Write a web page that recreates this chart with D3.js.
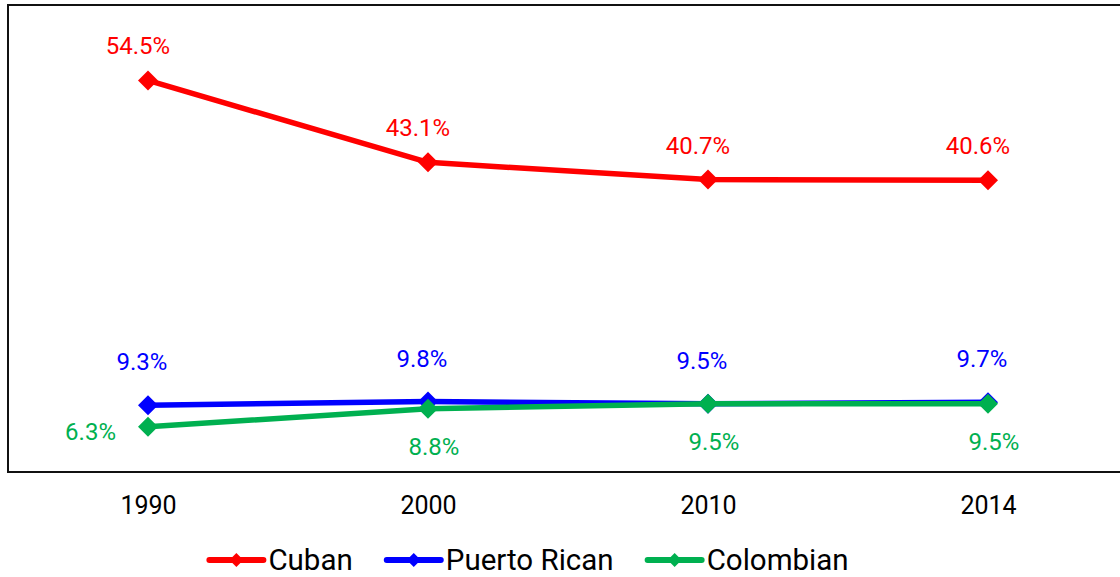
<!DOCTYPE html>
<html>
<head>
<meta charset="utf-8">
<script src="https://cdn.jsdelivr.net/npm/d3@7"></script>
<style>
  html, body { margin: 0; padding: 0; background: #fff; }
  svg { display: block; font-family: Roboto, "Liberation Sans", Arial, sans-serif; }
</style>
</head>
<body>
<svg id="chart" width="1120" height="577"></svg>
<script>
// ---- data ----
const years = ["1990", "2000", "2010", "2014"];
const cuban = [54.5, 43.1, 40.7, 40.6];
const puertoRican = [9.3, 9.8, 9.5, 9.7];
const colombian = [6.3, 8.8, 9.5, 9.5];
const seriesNames = ["Cuban", "Puerto Rican", "Colombian"];
const seriesColors = ["#ff0000", "#0000ff", "#00b050"];

const series = [
  { name: seriesNames[0], values: cuban, color: seriesColors[0], lab: { dx: -10, dy: -26, anchor: "middle" } },
  { name: seriesNames[1], values: puertoRican, color: seriesColors[1], lab: { dx: -6, dy: -35, anchor: "middle" } },
  { name: seriesNames[2], values: colombian, color: seriesColors[2], lab: { dx: 6, dy: 46, anchor: "middle" } }
];

const svg = d3.select("#chart");
const plot = { left: 8, top: 5, right: 1128, bottom: 472 };

const x = d3.scalePoint().domain(years).range([plot.left, plot.right]).padding(0.5);
const y = d3.scaleLinear().domain([0, 65]).range([plot.bottom, plot.top]);

// plot border
svg.append("rect")
  .attr("x", plot.left).attr("y", plot.top)
  .attr("width", plot.right - plot.left).attr("height", plot.bottom - plot.top)
  .attr("fill", "none").attr("stroke", "#111").attr("stroke-width", 2);

// x axis labels
const xAxis = d3.axisBottom(x).tickSize(0).tickPadding(0);
const gx = svg.append("g").attr("transform", `translate(0,${plot.bottom})`).call(xAxis);
gx.select(".domain").remove();
gx.selectAll("text")
  .attr("y", 42).attr("dy", null)
  .attr("font-size", 25).attr("font-family", "Roboto, sans-serif").attr("fill", "#000");

const diamond = r => `M0,${-r}L${r},0L0,${r}L${-r},0Z`;

const line = d3.line().x((d, i) => x(years[i])).y(d => y(d));

// draw in order so green is on top of blue
series.forEach(s => {
  const g = svg.append("g");
  g.append("path").datum(s.values)
    .attr("d", line)
    .attr("fill", "none").attr("stroke", s.color).attr("stroke-width", 5.5)
    .attr("stroke-linejoin", "round");
  g.selectAll("path.m").data(s.values).join("path")
    .attr("class", "m")
    .attr("d", diamond(10))
    .attr("transform", (d, i) => `translate(${x(years[i])},${y(d)})`)
    .attr("fill", s.color);
});

// data labels
series.forEach((s, si) => {
  svg.append("g").selectAll("text").data(s.values).join("text")
    .attr("x", (d, i) => {
      if (si === 2 && i === 0) return x(years[i]) - 32;
      return x(years[i]) + s.lab.dx;
    })
    .attr("y", (d, i) => {
      if (si === 2 && i === 0) return y(d) + 13;
      return y(d) + s.lab.dy;
    })
    .attr("text-anchor", (d, i) => (si === 2 && i === 0) ? "end" : s.lab.anchor)
    .attr("font-size", 24)
    .attr("fill", s.color)
    .text(d => d.toFixed(1) + "%");
});

// legend
const legend = svg.append("g");
const legY = 560;
const lineLen = 54, textGap = 5, itemGap = 34;
const items = series.map(s => {
  const g = legend.append("g");
  g.append("line").attr("x1", 0).attr("x2", lineLen).attr("y1", 0).attr("y2", 0)
    .attr("stroke", s.color).attr("stroke-width", 6).attr("stroke-linecap", "round");
  g.append("path").attr("d", diamond(7)).attr("transform", `translate(${lineLen / 2},0)`).attr("fill", s.color);
  const t = g.append("text").attr("x", lineLen + textGap).attr("y", 10)
    .attr("font-size", 29.5).attr("fill", "#000").text(s.name);
  return { g, w: lineLen + textGap + t.node().getComputedTextLength() };
});
const total = d3.sum(items, d => d.w) + itemGap * (items.length - 1);
let cx = 529 - total / 2;
items.forEach(it => {
  it.g.attr("transform", `translate(${cx},${legY})`);
  cx += it.w + itemGap;
});
</script>
</body>
</html>
